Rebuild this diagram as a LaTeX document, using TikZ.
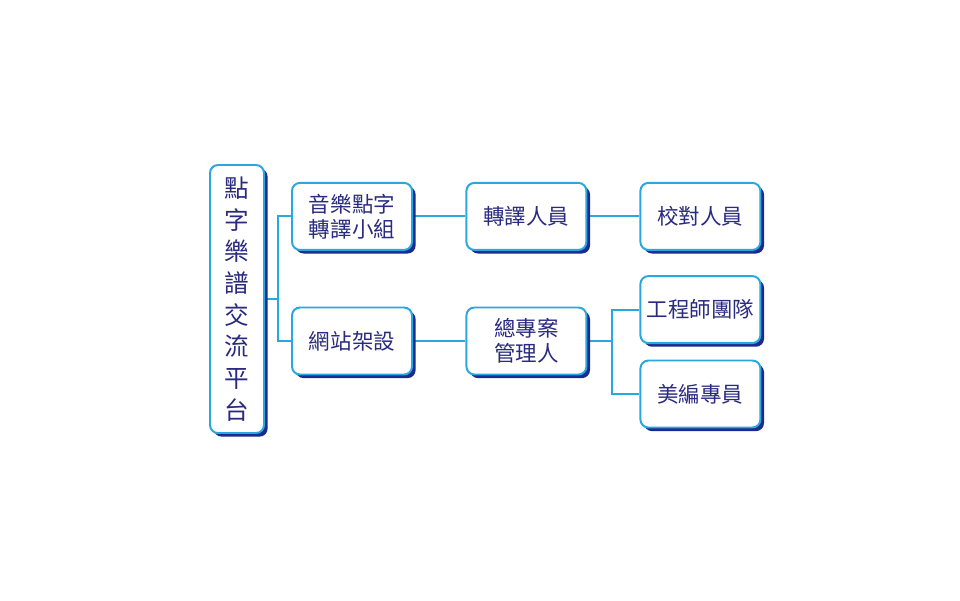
\documentclass[tikz,border=0pt]{standalone}
\usepackage{fontspec}
\setmainfont{Noto Sans CJK TC}
\usetikzlibrary{shadows,backgrounds}
\definecolor{edgeblue}{HTML}{29A8E0}
\definecolor{shadeblue}{HTML}{1C2B8F}
\definecolor{inkblue}{HTML}{2A2A80}
\tikzset{
  unit/.style={draw=edgeblue, line width=1.4pt, fill=white, rounded corners=0.2cm,
    minimum width=3cm, minimum height=1.675cm, inner sep=0pt, align=center,
    text=inkblue, font=\fontsize{15.3}{17.8}\selectfont,
    drop shadow={shadow xshift=0.09cm, shadow yshift=-0.09cm, fill=shadeblue, opacity=1}},
  link/.style={draw=edgeblue, line width=1.4pt}
}
\begin{document}
\begin{tikzpicture}
\useasboundingbox (0,0) rectangle (24,-15);
\node[unit, minimum width=1.35cm, minimum height=6.7cm, font=\fontsize{17.5}{22.5}\selectfont] (root) at (5.925,-7.475) {點\\字\\樂\\譜\\交\\流\\平\\台};
\node[unit] (music) at (8.8,-5.41) {音樂點字\\轉譯小組};
\node[unit] (web) at (8.8,-8.525) {網站架設};
\node[unit] (trans) at (13.16,-5.41) {轉譯人員};
\node[unit] (proof) at (17.51,-5.41) {校對人員};
\node[unit] (pm) at (13.16,-8.525) {總專案\\管理人};
\node[unit] (eng) at (17.51,-7.74) {工程師團隊};
\node[unit] (art) at (17.51,-9.85) {美編專員};

\coordinate (fork1) at (6.95,-7.475);
\coordinate (fork2) at (15.3,-8.525);

\begin{scope}[on background layer]
\draw[link] (root) -- (fork1);
\draw[link] (music.west) -| (fork1);
\draw[link] (web.west) -| (fork1);
\draw[link] (music) -- (trans);
\draw[link] (trans) -- (proof);
\draw[link] (web) -- (pm);
\draw[link] (pm) -- (fork2);
\draw[link] (eng.west) -| (fork2);
\draw[link] (art.west) -| (fork2);
\end{scope}
\end{tikzpicture}
\end{document}
